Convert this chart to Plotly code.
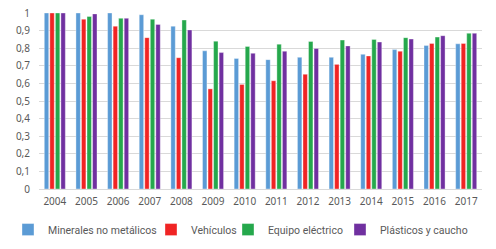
import plotly.graph_objects as go

years = ["2004","2005","2006","2007","2008","2009","2010","2011","2012","2013","2014","2015","2016","2017"]
minerales = [1.0, 1.0, 1.0, 0.99, 0.925, 0.785, 0.742, 0.735, 0.748, 0.748, 0.765, 0.792, 0.815, 0.825]
vehiculos = [1.0, 0.965, 0.925, 0.86, 0.746, 0.569, 0.594, 0.615, 0.652, 0.708, 0.756, 0.783, 0.827, 0.827]
equipo = [1.0, 0.98, 0.97, 0.965, 0.96, 0.84, 0.81, 0.823, 0.838, 0.846, 0.85, 0.86, 0.863, 0.885]
plasticos = [1.0, 0.995, 0.97, 0.935, 0.904, 0.775, 0.771, 0.783, 0.798, 0.813, 0.835, 0.852, 0.871, 0.885]

names = ["Minerales no metálicos", "Vehículos", "Equipo eléctrico", "Plásticos y caucho"]
series = [minerales, vehiculos, equipo, plasticos]
colors = ["#5B9BD5", "#F02424", "#25A84C", "#7030A0"]
legend_widths = [98, 32, 67, 88]

fig = go.Figure()
for n, s, c, lw in zip(names, series, colors, legend_widths):
    fig.add_trace(go.Bar(x=years, y=s, name=n, legendwidth=lw,
                         marker=dict(color=c, line=dict(color="rgba(255,255,255,0.6)", width=0.6))))

font = dict(family="Noto Sans, Liberation Sans, sans-serif", size=10, color="#595959")
fig.update_layout(
    width=496, height=249,
    margin=dict(l=39, r=14, t=13, b=60, autoexpand=False),
    paper_bgcolor="white", plot_bgcolor="white",
    barmode="group", bargap=0.3, bargroupgap=0.2,
    font=font,
    showlegend=True,
    legend=dict(orientation="h", x=-0.07, xanchor="left", y=-0.148, yanchor="top",
                font=dict(family="Roboto, sans-serif", size=10.5, color="#595959"),
                itemwidth=30, tracegroupgap=0, borderwidth=0),
    xaxis=dict(showgrid=False, showline=True, linecolor="#D9D9D9", linewidth=1, ticks="",
               tickfont=font, ticklabelstandoff=3),
    yaxis=dict(range=[0, 1.0], showgrid=True, gridcolor="#D9D9D9", gridwidth=1,
               zeroline=False, showline=False, ticks="", tickfont=font, ticklabelstandoff=8),
)
fig.update_yaxes(tickvals=[i/10 for i in range(11)],
                 ticktext=["0","0,1","0,2","0,3","0,4","0,5","0,6","0,7","0,8","0,9","1"])
fig.write_html("out.html", config={"displayModeBar": False},
               post_script="document.body.style.margin='0';document.body.style.overflow='hidden';")
